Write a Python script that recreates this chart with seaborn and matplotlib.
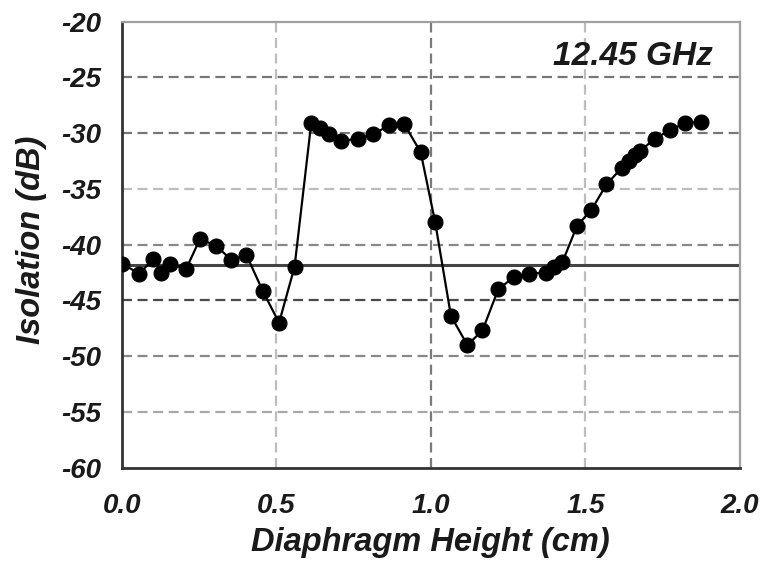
import matplotlib
matplotlib.use("Agg")
import matplotlib.pyplot as plt
import seaborn as sns
import pandas as pd

height_cm = [0.0, 0.057, 0.102, 0.127, 0.156, 0.208, 0.253, 0.306, 0.355, 0.403,
             0.457, 0.509, 0.559, 0.613, 0.640, 0.672, 0.710, 0.763, 0.812, 0.866,
             0.914, 0.967, 1.014, 1.065, 1.118, 1.167, 1.218, 1.269, 1.317, 1.371,
             1.398, 1.425, 1.473, 1.519, 1.568, 1.618, 1.640, 1.661, 1.677, 1.724,
             1.775, 1.822, 1.874]
isolation_db = [-41.7, -42.6, -41.3, -42.5, -41.7, -42.2, -39.5, -40.1, -41.4, -40.9,
                -44.2, -47.0, -42.0, -29.1, -29.5, -30.1, -30.7, -30.5, -30.1, -29.3,
                -29.2, -31.7, -38.0, -46.4, -49.0, -47.7, -44.0, -42.9, -42.6, -42.5,
                -42.0, -41.6, -38.3, -36.9, -34.6, -33.1, -32.5, -32.0, -31.6, -30.5,
                -29.7, -29.1, -29.0]
reference_db = -41.8
x_ticks = [0.0, 0.5, 1.0, 1.5, 2.0]
y_ticks = [-60, -55, -50, -45, -40, -35, -30, -25, -20]
annotation = "12.45 GHz"

# grid colours (style only)
hgrid_colors = ["#a8a8a8", "#888888", "#4a4a4a", "#888888", "#bdbdbd", "#777777", "#777777"]
vgrid_colors = ["#bdbdbd", "#7a7a7a", "#bdbdbd"]

sns.set_style("white")
plt.rcParams['font.family'] = ['Liberation Sans', 'DejaVu Sans']

df = pd.DataFrame({"h": height_cm, "iso": isolation_db})

fig = plt.figure(figsize=(7.67, 5.65), dpi=100)
ax = fig.add_axes([0.1587, 0.1724, 0.8061, 0.7892])

dash = (0, (4.5, 2.5))
for yv, c in zip(y_ticks[1:-1], hgrid_colors):
    ax.axhline(yv, color=c, lw=1.6, ls=dash, zorder=1)
for xv, c in zip(x_ticks[1:-1], vgrid_colors):
    ax.axvline(xv, color=c, lw=1.6, ls=dash, zorder=1)

ax.axhline(reference_db, color="#444444", lw=2.2, zorder=2)

sns.lineplot(data=df, x="h", y="iso", ax=ax, sort=False, color="black", lw=1.6,
             marker="o", markersize=10.8, markeredgecolor="black",
             markerfacecolor="black", zorder=3)

ax.set_xlim(0, 2.0)
ax.set_ylim(-60, -20)
ax.set_xticks(x_ticks)
ax.set_yticks(y_ticks)
ax.set_xticklabels([f"{v:.1f}" for v in x_ticks])
ax.set_yticklabels([str(v) for v in y_ticks])

for lab in ax.get_xticklabels() + ax.get_yticklabels():
    lab.set_fontweight("bold")
    lab.set_fontstyle("italic")
    lab.set_fontsize(20)
    lab.set_color("#1a1a1a")

ax.tick_params(axis="both", direction="out", length=4.5, width=1.5, color="#555555")
ax.tick_params(axis="x", pad=14)
ax.tick_params(axis="y", pad=10)

for s in ["top", "right"]:
    ax.spines[s].set_color("#a0a0a0")
    ax.spines[s].set_linewidth(1.6)
for s in ["left", "bottom"]:
    ax.spines[s].set_color("#333333")
    ax.spines[s].set_linewidth(2)

ax.set_xlabel("Diaphragm Height (cm)", fontsize=23.5, fontstyle="italic",
              fontweight="bold", color="#1a1a1a")
ax.set_ylabel("Isolation (dB)", fontsize=23.5, fontstyle="italic",
              fontweight="bold", color="#1a1a1a")
ax.xaxis.set_label_coords(0.5, -0.133)
ax.yaxis.set_label_coords(-0.121, 0.51)

ax.text(1.913, -23.1, annotation, ha="right", va="center", fontsize=24,
        fontweight="bold", fontstyle="italic", color="#1a1a1a")

fig.savefig("out.png", dpi=100)
